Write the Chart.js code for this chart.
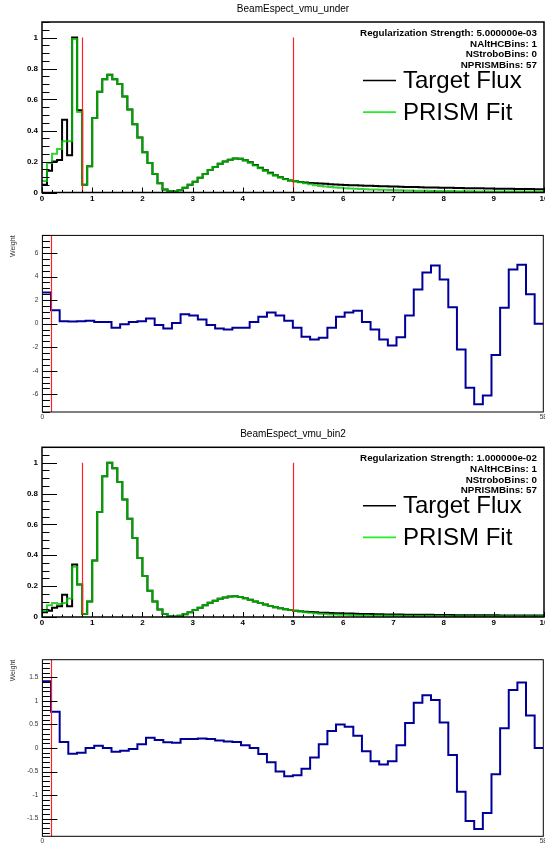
<!DOCTYPE html>
<html lang="en">
<head>
<meta charset="UTF-8">
<title>BeamEspect PRISM fits</title>
<script src="https://cdn.jsdelivr.net/npm/chart.js"></script>
<style>
  * { margin: 0; padding: 0; box-sizing: border-box; }
  html, body { width: 545px; height: 846px; overflow: hidden; background: #fff; }
  .page { position: relative; width: 545px; height: 846px; }
  canvas { position: absolute; left: 0; }
</style>
</head>
<body>
<div class="page">
  <canvas id="underFlux" width="560" height="212" style="top:0px"></canvas>
  <canvas id="underWeights" width="560" height="203" style="top:225px"></canvas>
  <canvas id="bin2Flux" width="560" height="212" style="top:425px"></canvas>
  <canvas id="bin2Weights" width="560" height="196" style="top:650px"></canvas>
</div>
<script>
// ---- data ----
const fluxBinWidth = 0.1;      // GeV, 100 bins from 0 to 10
const weightBinWidth = 1;      // 58 coefficients
const fluxCuts = [0.8, 5.0];
const weightCuts = [1];
const weightXTicks = [0, 58];
const legendLabels = ['Target Flux', 'PRISM Fit'];
const underTitle = 'BeamEspect_vmu_under';
const bin2Title = 'BeamEspect_vmu_bin2';
const underStats = ['Regularization Strength: 5.000000e-03', 'NAltHCBins: 1', 'NStroboBins: 0', 'NPRISMBins: 57'];
const bin2Stats = ['Regularization Strength: 1.000000e-02', 'NAltHCBins: 1', 'NStroboBins: 0', 'NPRISMBins: 57'];

const underTarget = [
  0.05, 0.14, 0.20, 0.21, 0.47, 0.24, 1.00, 0.53,
  0.05, 0.17, 0.48, 0.65, 0.73, 0.76, 0.73, 0.70, 0.62, 0.535, 0.44, 0.355, 0.26, 0.19, 0.12, 0.06, 0.02,
  0.008, 0.006, 0.015, 0.03, 0.05, 0.07, 0.095, 0.12, 0.145, 0.165, 0.185, 0.2, 0.212, 0.22, 0.218,
  0.208, 0.195, 0.178, 0.16, 0.143, 0.127, 0.112, 0.098, 0.087, 0.078,
  0.072, 0.068, 0.065, 0.062, 0.060, 0.058, 0.056, 0.054, 0.052, 0.050,
  0.049, 0.047, 0.046, 0.045, 0.044, 0.043, 0.042, 0.041, 0.040, 0.039,
  0.038, 0.037, 0.036, 0.036, 0.035, 0.034, 0.033, 0.033, 0.032, 0.031,
  0.031, 0.030, 0.029, 0.029, 0.028, 0.028, 0.027, 0.027, 0.026, 0.026,
  0.025, 0.025, 0.024, 0.024, 0.023, 0.023, 0.022, 0.022, 0.021, 0.021
];
const underFit = [
  0.075, 0.19, 0.25, 0.28, 0.33, 0.33, 0.99, 0.52,
  0.05, 0.17, 0.48, 0.65, 0.73, 0.76, 0.73, 0.70, 0.62, 0.535, 0.44, 0.355, 0.26, 0.19, 0.12, 0.06, 0.02,
  0.008, 0.006, 0.015, 0.03, 0.05, 0.07, 0.095, 0.12, 0.145, 0.165, 0.185, 0.2, 0.212, 0.22, 0.217,
  0.206, 0.192, 0.175, 0.156, 0.139, 0.123, 0.109, 0.096, 0.086, 0.079,
  0.073, 0.066, 0.059, 0.053, 0.047, 0.042, 0.038, 0.035, 0.032, 0.030,
  0.028, 0.026, 0.024, 0.022, 0.021, 0.020, 0.019, 0.018, 0.017, 0.016,
  0.015, 0.014, 0.013, 0.013, 0.012, 0.011, 0.011, 0.010, 0.010, 0.009,
  0.009, 0.009, 0.008, 0.008, 0.008, 0.008, 0.007, 0.007, 0.007, 0.007,
  0.007, 0.006, 0.006, 0.006, 0.006, 0.006, 0.006, 0.006, 0.006, 0.006
];
const bin2Target = [
  0.03, 0.04, 0.06, 0.07, 0.145, 0.07, 0.34, 0.21,
  0.02, 0.10, 0.367, 0.68, 0.913, 1.0, 0.965, 0.875, 0.762, 0.637, 0.512, 0.382, 0.266, 0.17, 0.10, 0.048, 0.02,
  0.005, 0.003, 0.008, 0.018, 0.03, 0.045, 0.06, 0.076, 0.092, 0.106, 0.118, 0.127, 0.133, 0.134, 0.13,
  0.122, 0.112, 0.101, 0.091, 0.081, 0.072, 0.063, 0.056, 0.05, 0.045,
  0.041, 0.037, 0.034, 0.032, 0.030, 0.028, 0.027, 0.026, 0.025, 0.024,
  0.023, 0.022, 0.021, 0.020, 0.020, 0.019, 0.018, 0.018, 0.017, 0.017,
  0.016, 0.016, 0.015, 0.015, 0.015, 0.014, 0.014, 0.014, 0.013, 0.013,
  0.013, 0.013, 0.012, 0.012, 0.012, 0.012, 0.011, 0.011, 0.011, 0.011,
  0.011, 0.010, 0.010, 0.010, 0.010, 0.010, 0.009, 0.009, 0.009, 0.009
];
const bin2Fit = [
  0.04, 0.076, 0.09, 0.085, 0.09, 0.12, 0.326, 0.21,
  0.02, 0.10, 0.367, 0.68, 0.913, 1.0, 0.965, 0.875, 0.762, 0.637, 0.512, 0.382, 0.266, 0.17, 0.10, 0.048, 0.02,
  0.005, 0.003, 0.008, 0.018, 0.03, 0.045, 0.06, 0.076, 0.092, 0.106, 0.118, 0.127, 0.133, 0.134, 0.13,
  0.122, 0.112, 0.101, 0.091, 0.081, 0.072, 0.063, 0.056, 0.05, 0.045,
  0.040, 0.035, 0.031, 0.027, 0.024, 0.021, 0.019, 0.017, 0.016, 0.015,
  0.014, 0.013, 0.012, 0.011, 0.011, 0.010, 0.010, 0.009, 0.009, 0.008,
  0.008, 0.008, 0.007, 0.007, 0.007, 0.007, 0.006, 0.006, 0.006, 0.006,
  0.006, 0.005, 0.005, 0.005, 0.005, 0.005, 0.005, 0.005, 0.005, 0.005,
  0.005, 0.005, 0.005, 0.005, 0.005, 0.005, 0.005, 0.005, 0.005, 0.005
];
const underWeights = [
  2.65, 1.15, 0.2, 0.18, 0.2, 0.25, 0.15, 0.15, -0.35, -0.05,
  0.15, 0.2, 0.45, -0.1, -0.4, 0.05, 0.8, 0.7, 0.35, -0.1,
  -0.4, -0.5, -0.35, -0.35, 0.15, 0.6, 0.95, 0.7, 0.25, -0.35,
  -1.1, -1.35, -1.2, -0.35, 0.6, 0.95, 1.1, 0.15, -0.5, -1.35,
  -1.85, -1.15, 0.7, 2.9, 4.35, 4.95, 3.75, 1.4, -2.2, -5.45,
  -6.85, -6.1, -2.65, 1.35, 4.6, 5.0, 2.5, 0
];
const bin2Weights = [
  1.42, 0.77, 0.13, -0.12, -0.1, 0.0, 0.05, 0.0, -0.08, -0.06,
  -0.02, 0.08, 0.22, 0.17, 0.12, 0.11, 0.19, 0.19, 0.2, 0.19,
  0.16, 0.14, 0.13, 0.06, 0.0, -0.13, -0.3, -0.5, -0.6, -0.58,
  -0.44, -0.2, 0.08, 0.36, 0.5, 0.45, 0.26, -0.07, -0.28, -0.35,
  -0.28, 0.06, 0.53, 0.96, 1.12, 1.02, 0.54, -0.15, -0.93, -1.55,
  -1.72, -1.38, -0.56, 0.42, 1.23, 1.39, 0.69, 0
];

Chart.defaults.font.family = "'Liberation Sans', Arial, sans-serif";
Chart.defaults.color = '#000';

// histogram outline: one point per low bin edge + closing point at the last high edge
function histPoints(values, width) {
  const pts = values.map((v, i) => ({ x: i * width, y: v }));
  pts.push({ x: values.length * width, y: values[values.length - 1] });
  return pts;
}

// inward ROOT-style ticks, major every t.major, minor every t.minor
function drawTicks(ctx, scale, t, a, horizontal) {
  if (!t) return;
  const start = Math.ceil(scale.min / t.minor - 1e-6);
  for (let k = start; k * t.minor <= scale.max + 1e-6; k++) {
    const v = k * t.minor;
    const r = v / t.major;
    const len = Math.abs(r - Math.round(r)) < 1e-6 ? t.majorLen : t.minorLen;
    const p = Math.round(scale.getPixelForValue(v)) + 0.5;
    ctx.beginPath();
    if (horizontal) { ctx.moveTo(p, a.bottom); ctx.lineTo(p, a.bottom - len); }
    else { ctx.moveTo(a.left, p); ctx.lineTo(a.left + len, p); }
    ctx.stroke();
  }
}

// ROOT-like pad decorations: frame, ticks, cut lines, stats text, legend
const rootPad = {
  id: 'rootPad',
  afterDatasetsDraw(chart, args, o) {
    const { ctx, chartArea: a, scales: { x, y } } = chart;
    ctx.save();
    ctx.strokeStyle = '#ff2020';
    ctx.lineWidth = 1.2;
    o.cuts.forEach(c => {
      const px = Math.round(x.getPixelForValue(c)) + 0.5;
      const y0 = o.cutRange ? y.getPixelForValue(o.cutRange[0]) : a.bottom;
      const y1 = o.cutRange ? y.getPixelForValue(o.cutRange[1]) : a.top;
      ctx.beginPath(); ctx.moveTo(px, y0); ctx.lineTo(px, y1); ctx.stroke();
    });
    ctx.strokeStyle = '#000';
    ctx.lineWidth = 1;
    drawTicks(ctx, y, o.yTicks, a, false);
    drawTicks(ctx, x, o.xTicks, a, true);
    ctx.lineWidth = o.frameWidth;
    ctx.strokeRect(a.left, a.top, a.right - a.left, a.bottom - a.top);

    ctx.fillStyle = '#000';
    if (o.title) {
      ctx.font = "10px 'Liberation Sans', Arial, sans-serif";
      ctx.textAlign = 'center';
      ctx.textBaseline = 'alphabetic';
      ctx.fillText(o.title, 293, a.top - 10);
    }
    if (o.stats) {
      ctx.font = "bold 9.8px 'Liberation Sans', Arial, sans-serif";
      ctx.textAlign = 'right';
      o.stats.forEach((s, i) => ctx.fillText(s, a.right - 7, a.top + 14 + i * 10.7));
    }
    if (o.legend) {
      ctx.font = "24px 'Liberation Sans', Arial, sans-serif";
      ctx.textAlign = 'left';
      o.legend.forEach((item, i) => {
        const ly = a.top + 58.5 + i * 31.6;
        ctx.strokeStyle = item.color;
        ctx.lineWidth = item.width;
        ctx.beginPath(); ctx.moveTo(a.left + 321, ly); ctx.lineTo(a.left + 354, ly); ctx.stroke();
        ctx.fillText(item.label, a.left + 361, ly + 7.5);
      });
    }
    ctx.restore();
  }
};

function makePad(id, frame, datasets, xOpts, yOpts, pad) {
  const cv = document.getElementById(id);
  const W = cv.width, H = cv.height;
  return new Chart(cv, {
    type: 'line',
    data: { datasets },
    options: {
      responsive: false,
      animation: false,
      events: [],
      layout: { autoPadding: false, padding: { top: frame.top, right: W - frame.right, left: 0, bottom: 0 } },
      elements: { point: { radius: 0 }, line: { tension: 0, stepped: true } },
      scales: {
        x: Object.assign({
          type: 'linear',
          grid: { display: false, drawTicks: false },
          border: { display: false },
          afterFit: s => { s.height = H - frame.bottom; }
        }, xOpts),
        y: Object.assign({
          type: 'linear',
          grid: { display: false, drawTicks: false },
          border: { display: false },
          afterFit: s => { s.width = frame.left; }
        }, yOpts)
      },
      plugins: { legend: { display: false }, tooltip: { enabled: false }, rootPad: pad }
    },
    plugins: [rootPad]
  });
}

const fmt = v => {
  const r = Math.round(v * 100) / 100;
  return r === 0 ? '0' : String(r);
};

function fluxPad(id, frame, target, fit, title, stats) {
  // lower "order" is painted last, so the fit sits on top of the target
  return makePad(id, frame, [
    { data: histPoints(target, fluxBinWidth), borderColor: '#000000', borderWidth: 2, order: 2 },
    { data: histPoints(fit, fluxBinWidth), borderColor: 'rgba(0, 200, 0, 0.8)', borderWidth: 2, order: 1 }
  ], {
    min: 0, max: 10,
    ticks: { stepSize: 1, padding: 1, maxRotation: 0, font: { size: 8, weight: 'bold' }, callback: fmt }
  }, {
    min: 0, max: 1.1,
    ticks: { stepSize: 0.2, includeBounds: false, padding: 4, font: { size: 8, weight: 'bold' }, callback: fmt }
  }, {
    cuts: fluxCuts, cutRange: [0, 1], frameWidth: 1.5, title, stats,
    yTicks: { minor: 0.05, major: 0.2, majorLen: 15, minorLen: 7.5 },
    xTicks: { minor: 0.2, major: 1, majorLen: 5, minorLen: 2.5 },
    legend: [
      { label: legendLabels[0], color: '#000000', width: 1.5 },
      { label: legendLabels[1], color: '#22ee22', width: 1.8 }
    ]
  });
}

function weightPad(id, frame, weights, yMax, yStep, minor) {
  return makePad(id, frame, [
    { data: histPoints(weights, weightBinWidth), borderColor: '#000099', borderWidth: 2 }
  ], {
    min: 0, max: weights.length,
    afterBuildTicks: s => { s.ticks = weightXTicks.map(v => ({ value: v })); },
    ticks: { padding: 1, maxRotation: 0, color: '#333', font: { size: 6.5 }, callback: v => String(v) }
  }, {
    min: -yMax, max: yMax,
    title: { display: true, text: 'Weight', align: 'end', color: '#333', font: { size: 7 }, padding: { top: 9, bottom: 0 } },
    ticks: { stepSize: yStep, includeBounds: false, padding: 4, color: '#333', font: { size: 6.5 }, callback: fmt }
  }, {
    cuts: weightCuts, cutRange: null, frameWidth: 1,
    yTicks: { minor, major: yStep, majorLen: 15, minorLen: 7.5 },
    xTicks: null
  });
}

fluxPad('underFlux', { top: 22, bottom: 192.5, left: 42, right: 544 }, underTarget, underFit, underTitle, underStats);
weightPad('underWeights', { top: 10.4, bottom: 187, left: 42.4, right: 543.3 }, underWeights, 7.5, 2, 0.5);
fluxPad('bin2Flux', { top: 22.3, bottom: 192, left: 42, right: 544 }, bin2Target, bin2Fit, bin2Title, bin2Stats);
weightPad('bin2Weights', { top: 9.7, bottom: 186.3, left: 42.4, right: 543.3 }, bin2Weights, 1.875, 0.5, 0.1);
</script>
</body>
</html>
